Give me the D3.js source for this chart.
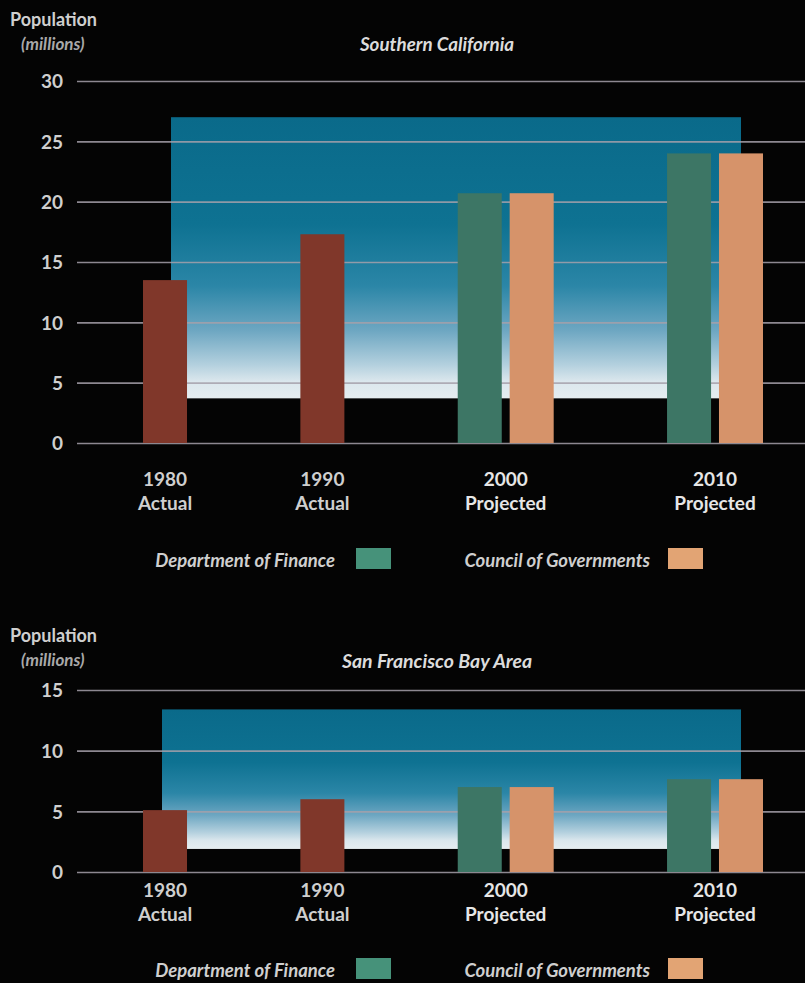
<!DOCTYPE html>
<html>
<head>
<meta charset="utf-8">
<script src="https://cdn.jsdelivr.net/npm/d3@7"></script>
<style>
  html, body { margin: 0; padding: 0; background: #040404; }
  svg { display: block; }
  text { font-family: Lato, "Open Sans", sans-serif; }
</style>
</head>
<body>
<svg id="chart" width="805" height="983"></svg>
<script>
// ---------- DATA ----------
const categories = ["1980", "1990", "2000", "2010"];
const categoryKinds = ["Actual", "Actual", "Projected", "Projected"];
const seriesNames = ["Actual", "Department of Finance", "Council of Governments"];

const socalTitle = "Southern California";
const socalActual = [13.5, 17.3, null, null];
const socalFinance = [null, null, 20.7, 24.0];
const socalCouncil = [null, null, 20.7, 24.0];
const socalTicks = [0, 5, 10, 15, 20, 25, 30];
const socalPanel = [3.7, 27.0];

const bayTitle = "San Francisco Bay Area";
const bayActual = [5.1, 6.0, null, null];
const bayFinance = [null, null, 7.0, 7.65];
const bayCouncil = [null, null, 7.0, 7.65];
const bayTicks = [0, 5, 10, 15];
const bayPanel = [1.9, 13.4];

const axisTitle = "Population";
const axisUnit = "(millions)";

// ---------- STYLE ----------
const seriesColors = ["#80372a", "#3d7665", "#d6936a"];
const legendColors = ["#80372a", "#46927a", "#e2a474"];
const textColor = "#cfcfcf";

const svg = d3.select("#chart");
svg.append("rect").attr("width", 805).attr("height", 983).attr("fill", "#040404");

const defs = svg.append("defs");
const grad = defs.append("linearGradient").attr("id", "panelGrad")
  .attr("x1", 0).attr("y1", 0).attr("x2", 0).attr("y2", 1);
[[0, "#0a6a8a"], [0.38, "#0e7292"], [0.6, "#2b86a7"], [0.76, "#6ea7c2"],
 [0.88, "#b3d0de"], [0.94, "#dbe7ed"], [1, "#e6edf0"]]
  .forEach(([o, c]) => grad.append("stop").attr("offset", o).attr("stop-color", c));

function drawChart(cfg) {
  const g = svg.append("g");
  const y = d3.scaleLinear().domain([0, d3.max(cfg.ticks)]).range([cfg.zeroY, cfg.topY]);
  const series = [cfg.actual, cfg.finance, cfg.council];

  // horizontal layout in "bar units"
  const inner = 0.18, gap = 2.575;
  const groups = [];
  let cursor = 0;
  categories.forEach((c, i) => {
    const present = series.map((s, si) => ({ si, v: s[i] })).filter(d => d.v != null);
    groups.push({ cat: c, kind: categoryKinds[i], start: cursor, bars: present,
                  width: present.length + (present.length - 1) * inner });
    cursor += groups[groups.length - 1].width + gap;
  });
  const total = cursor - gap;
  const xu = d3.scaleLinear().domain([0, total]).range([143, 763]);

  // background panel
  const first = groups[0], last = groups[groups.length - 1];
  const panelLeft = xu(first.start + first.width / 2) + cfg.panelLeftShift;
  const panelRight = xu(last.start + last.width - 0.5);
  g.append("rect")
    .attr("x", panelLeft).attr("y", y(cfg.panel[1]))
    .attr("width", panelRight - panelLeft)
    .attr("height", y(cfg.panel[0]) - y(cfg.panel[1]))
    .attr("fill", "url(#panelGrad)");

  // gridlines
  const grid = g.append("g").attr("transform", "translate(805,0)")
    .call(d3.axisLeft(y).tickValues(cfg.ticks).tickSize(728).tickFormat(""));
  grid.select(".domain").remove();
  grid.selectAll("line").attr("stroke", "#a6a0aa").attr("stroke-width", 1.6).attr("opacity", 0.85);

  // tick labels
  const ax = g.append("g").attr("transform", "translate(77,0)")
    .call(d3.axisLeft(y).tickValues(cfg.ticks).tickSize(0).tickPadding(14));
  ax.select(".domain").remove();
  ax.selectAll("text").attr("fill", textColor).attr("font-size", 19).attr("font-weight", 700)
    .attr("font-family", "Lato, sans-serif").attr("dy", "0.36em");

  // bars
  groups.forEach(gr => {
    gr.bars.forEach((b, j) => {
      const u0 = gr.start + j * (1 + inner);
      g.append("rect")
        .attr("x", xu(u0)).attr("width", xu(u0 + 1) - xu(u0))
        .attr("y", y(b.v)).attr("height", y(0) - y(b.v))
        .attr("fill", seriesColors[b.si]);
    });
    const cx = xu(gr.start + gr.width / 2);
    const col = gr.kind === "Projected" ? "#e6e6e6" : textColor;
    g.append("text").attr("x", cx).attr("y", cfg.zeroY + cfg.yearDy)
      .attr("text-anchor", "middle").attr("fill", col)
      .attr("font-size", 19).attr("font-weight", 700).text(gr.cat);
    g.append("text").attr("x", cx).attr("y", cfg.zeroY + cfg.yearDy + 24)
      .attr("text-anchor", "middle").attr("fill", col)
      .attr("font-size", 19).attr("font-weight", 700).text(gr.kind);
  });

  // axis title
  g.append("text").attr("x", 10).attr("y", cfg.labelY).attr("fill", textColor)
    .attr("font-size", 18).attr("font-weight", 700).text(axisTitle);
  g.append("text").attr("x", 21).attr("y", cfg.labelY + 24).attr("fill", "#a9a9a9")
    .attr("font-size", 17).attr("font-style", "italic").attr("font-weight", 700).text(axisUnit);

  // chart title
  g.append("text").attr("x", 437).attr("y", cfg.titleY).attr("text-anchor", "middle")
    .attr("fill", "#dcdcdc").attr("font-size", cfg.titleSize).attr("font-style", "italic")
    .attr("font-weight", 700).text(cfg.title);

  // legend
  const legY = cfg.legendY;
  [[1, 335, 356], [2, 650, 668]].forEach(([si, textRight, swX]) => {
    g.append("text").attr("x", textRight).attr("y", legY).attr("text-anchor", "end")
      .attr("fill", textColor).attr("font-size", 18.5).attr("font-style", "italic")
      .attr("font-weight", 700).text(seriesNames[si]);
    g.append("rect").attr("x", swX).attr("y", legY - 19).attr("width", 35).attr("height", 21)
      .attr("fill", legendColors[si]);
  });
}

drawChart({ title: socalTitle, actual: socalActual, finance: socalFinance, council: socalCouncil,
  ticks: socalTicks, panel: socalPanel, zeroY: 443, topY: 81, yearDy: 43, labelY: 26,
  titleY: 51, titleSize: 18.8, legendY: 567, panelLeftShift: 6 });
drawChart({ title: bayTitle, actual: bayActual, finance: bayFinance, council: bayCouncil,
  ticks: bayTicks, panel: bayPanel, zeroY: 872, topY: 690, yearDy: 25, labelY: 642,
  titleY: 668, titleSize: 19.5, legendY: 977, panelLeftShift: -3 });
</script>
</body>
</html>
